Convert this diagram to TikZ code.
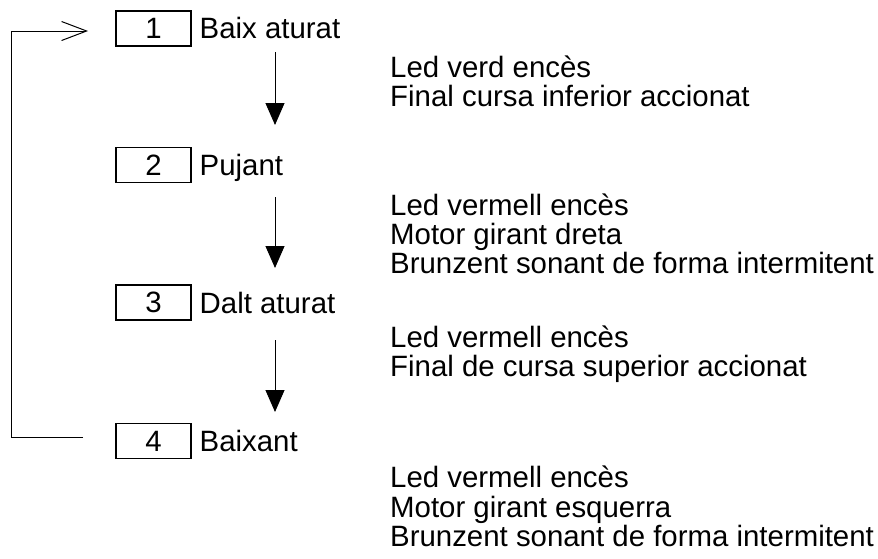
\documentclass[tikz,border=0pt]{standalone}
\usepackage{fontspec}
\setmainfont{Liberation Sans}
\usetikzlibrary{arrows.meta}
\begin{document}
\begin{tikzpicture}[x=1pt,y=-1pt,
  statebox/.style={draw,line width=1.3pt,minimum width=75pt,minimum height=35pt,inner sep=0pt,font=\fontsize{29.4}{30}\selectfont},
  lbl/.style={anchor=base west,inner sep=0pt,font=\fontsize{29.4}{30}\selectfont},
  flow/.style={line width=1pt,-{Triangle[length=22pt,width=19pt]}},
  loop/.style={line width=1pt,-{Straight Barb[length=25pt,width=19pt,line width=1pt]}}]
\useasboundingbox (0,0) rectangle (878,558);
% boxes
\node[statebox] (b1) at (153.5,28.5) {1};
\node[statebox] (b2) at (153.5,165) {2};
\node[statebox] (b3) at (153.5,302.5) {3};
\node[statebox] (b4) at (153.5,441) {4};
% state names
\node[lbl] (n1) at (199.5,38) {Baix aturat};
\node[lbl] (n2) at (199.5,175) {Pujant};
\node[lbl] (n3) at (199.5,313) {Dalt aturat};
\node[lbl] (n4) at (199.5,451) {Baixant};
% descriptions
\node[lbl] (t1a) at (390,77) {Led verd encès};
\node[lbl] (t1b) at (390,106) {Final cursa inferior accionat};
\node[lbl] (t2a) at (390,215) {Led vermell encès};
\node[lbl] (t2b) at (390,244) {Motor girant dreta};
\node[lbl] (t2c) at (390,273) {Brunzent sonant de forma intermitent};
\node[lbl] (t3a) at (390,347) {Led vermell encès};
\node[lbl] (t3b) at (390,376) {Final de cursa superior accionat};
\node[lbl] (t4a) at (390,487) {Led vermell encès};
\node[lbl] (t4b) at (390,517) {Motor girant esquerra};
\node[lbl] (t4c) at (390,546) {Brunzent sonant de forma intermitent};
% flow arrows
\coordinate (a1s) at (275,52);  \coordinate (a1e) at (275,125);
\coordinate (a2s) at (275,197); \coordinate (a2e) at (275,268);
\coordinate (a3s) at (275,340); \coordinate (a3e) at (275,412);
\draw[flow] (a1s) -- (a1e);
\draw[flow] (a2s) -- (a2e);
\draw[flow] (a3s) -- (a3e);
% loop back
\coordinate (ls) at (83,437);
\coordinate (le) at (88,31);
\draw[loop] (ls) -- (11,437) -- (11,31) -- (le);
\end{tikzpicture}
\end{document}
